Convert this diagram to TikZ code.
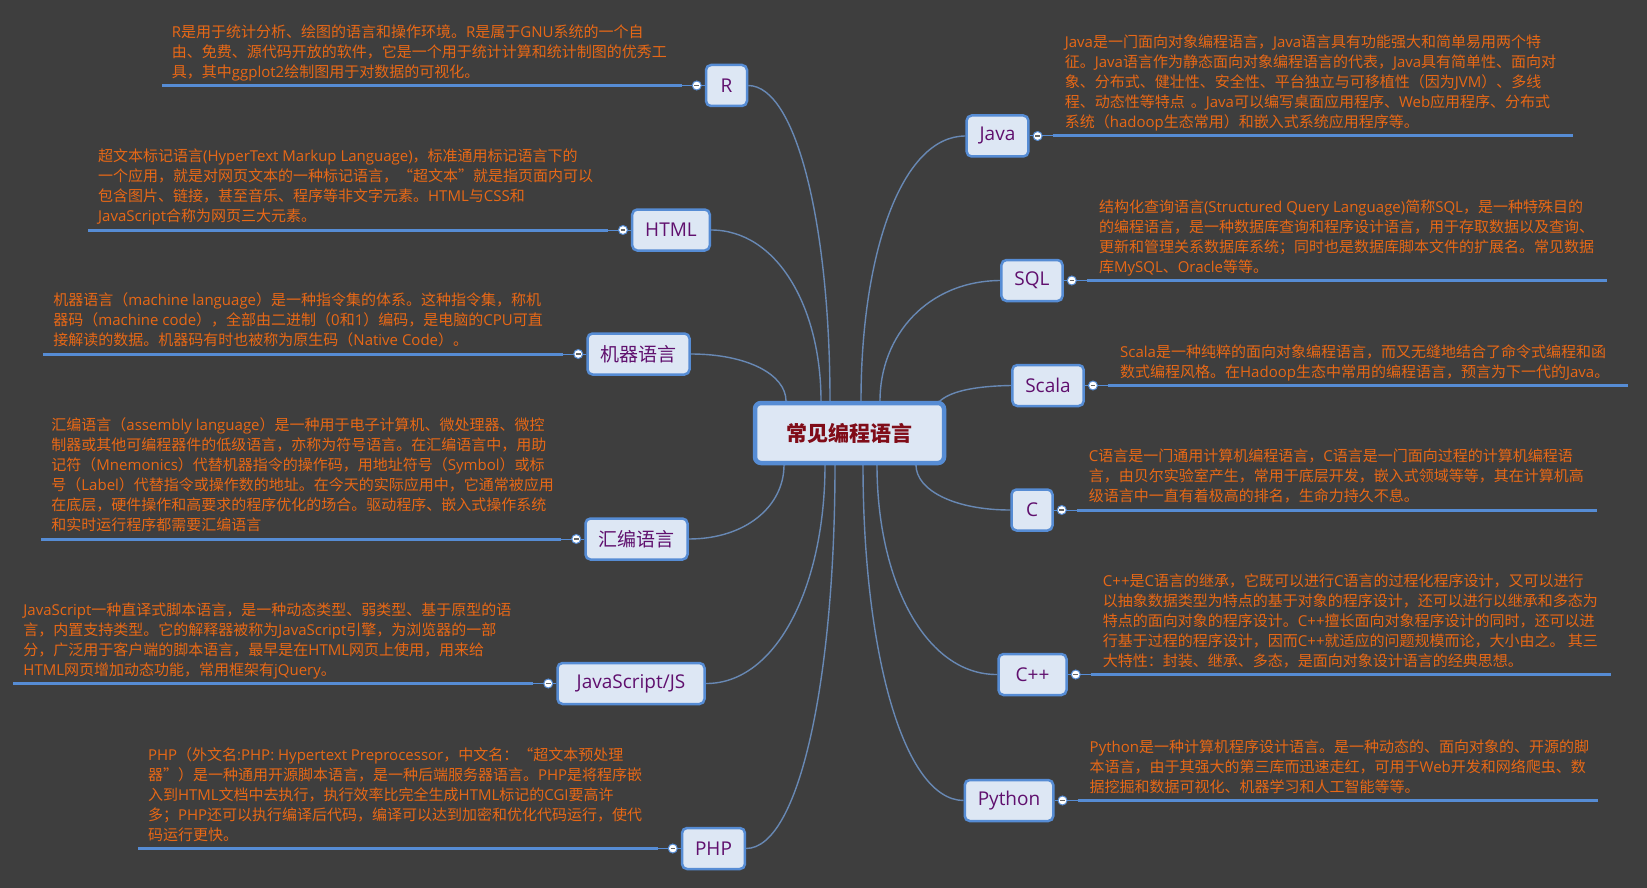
\documentclass[tikz,border=0pt]{standalone}
\usepackage{fontspec}
\setmainfont{Open Sans}
\newfontfamily\latinfont{Open Sans}
\newfontfamily\cjkfont{Noto Sans CJK SC}
\definecolor{bggray}{RGB}{62,62,62}
\definecolor{noteorange}{RGB}{232,104,22}
\definecolor{linkblue}{RGB}{86,140,212}
\definecolor{branchblue}{RGB}{104,136,180}
\definecolor{topicfill}{RGB}{221,231,244}
\definecolor{topicpurple}{RGB}{96,16,110}
\definecolor{rootred}{RGB}{128,12,24}
\pgfdeclarelayer{backdrop}
\pgfsetlayers{backdrop,main}
% switch fonts between latin and CJK characters
\newXeTeXintercharclass\cjkcls
\newcount\cjkcnt
\newcommand\cjkrange[2]{\cjkcnt=#1\relax
  \loop\XeTeXcharclass\cjkcnt=\cjkcls\relax
  \ifnum\cjkcnt<#2\advance\cjkcnt by 1\repeat}
\cjkrange{"4E00}{"9FFF}
\cjkrange{"3000}{"303F}
\cjkrange{"FF00}{"FFEF}
\cjkrange{"201C}{"201D}
\XeTeXinterchartoks 0 \cjkcls = {\cjkfont}
\XeTeXinterchartoks 4095 \cjkcls = {\cjkfont}
\XeTeXinterchartoks \cjkcls 0 = {\latinfont}
\XeTeXinterchartoks 4095 0 = {\latinfont}

\begin{document}
\XeTeXinterchartokenstate=1
\begin{tikzpicture}[x=1pt,y=-1pt,
    root/.style={draw=linkblue,line width=4.5pt,fill=topicfill,rounded corners=6pt,
      minimum width=189pt,minimum height=60pt,text=rootred,
      font=\fontsize{21}{25}\selectfont\bfseries},
    topic/.style={draw=linkblue,line width=2.5pt,fill=topicfill,rounded corners=5pt,
      minimum width=41pt,minimum height=41pt,inner xsep=13pt,text=topicpurple,
      font=\fontsize{19}{22}\selectfont},
    note/.style={anchor=south west,align=left,inner sep=0pt,text=noteorange,
      font=\fontsize{15}{20}\selectfont,execute at end node=\strut},
    branch/.style={draw=branchblue,line width=1.4pt},
    uline/.style={draw=linkblue,line width=3pt},
    twig/.style={draw=linkblue,line width=1pt},
    fold/.style={circle,draw=linkblue,fill=white,line width=1pt,minimum size=9pt,inner sep=0pt,
      path picture={\draw[line width=1.2pt,black!60]
        ([xshift=-2.3pt]path picture bounding box.center) --
        ([xshift=2.3pt]path picture bounding box.center);}}]

    \useasboundingbox (0,0) rectangle (1647,888);
    \begin{pgfonlayer}{backdrop}
        \fill[bggray] (0,0) rectangle (1647,888);
    \end{pgfonlayer}

    % Topics
    \node[root] (ctr) at (849.5,433) {常见编程语言};
    \node[topic] (r) at (726.5,85.5) {R};
    \node[topic] (html) at (671,230) {HTML};
    \node[topic] (mach) at (638.5,354) {机器语言};
    \node[topic] (asm) at (636.5,539) {汇编语言};
    \node[topic,minimum width=147pt] (js) at (631,683.5) {JavaScript/JS};
    \node[topic] (php) at (713.5,848.5) {PHP};
    \node[topic] (java) at (997.5,136) {Java};
    \node[topic] (sql) at (1032,280.5) {SQL};
    \node[topic] (scala) at (1048,385.5) {Scala};
    \node[topic] (c) at (1032,510) {C};
    \node[topic,minimum width=68pt] (cpp) at (1032.5,674.5) {C++};
    \node[topic] (py) at (1009,800.5) {Python};

    % Underlines with fold buttons
    \foreach \nm in {r,html,mach,asm,js,php}{
        \draw[twig] (\nm.west) -- ++(-23,0) coordinate (\nm-a);
        \draw[uline] (\nm-a) -- ++(-520,0) coordinate (\nm-b);
        \node[fold] at ([xshift=-8pt]\nm.west) {};
    }
    \foreach \nm in {java,sql,scala,c,cpp,py}{
        \draw[twig] (\nm.east) -- ++(23,0) coordinate (\nm-a);
        \draw[uline] (\nm-a) -- ++(520,0) coordinate (\nm-b);
        \node[fold] at ([xshift=8pt]\nm.east) {};
    }

    % Notes, left side
    \node[note] (rnote) at ([xshift=10pt,yshift=2pt]r-b) {R是用于统计分析、绘图的语言和操作环境。R是属于GNU系统的一个自\\由、免费、源代码开放的软件，它是一个用于统计计算和统计制图的优秀工\\具，其中ggplot2绘制图用于对数据的可视化。};
    \node[note] (htmlnote) at ([xshift=10pt,yshift=2pt]html-b) {超文本标记语言(HyperText Markup Language)，标准通用标记语言下的\\一个应用，就是对网页文本的一种标记语言，“超文本”就是指页面内可以\\包含图片、链接，甚至音乐、程序等非文字元素。HTML与CSS和\\JavaScript合称为网页三大元素。};
    \node[note] (machnote) at ([xshift=10pt,yshift=2pt]mach-b) {机器语言（machine language）是一种指令集的体系。这种指令集，称机\\器码（machine code），全部由二进制（0和1）编码，是电脑的CPU可直\\接解读的数据。机器码有时也被称为原生码（Native Code）。};
    \node[note] (asmnote) at ([xshift=10pt,yshift=2pt]asm-b) {汇编语言（assembly language）是一种用于电子计算机、微处理器、微控\\制器或其他可编程器件的低级语言，亦称为符号语言。在汇编语言中，用助\\记符（Mnemonics）代替机器指令的操作码，用地址符号（Symbol）或标\\号（Label）代替指令或操作数的地址。在今天的实际应用中，它通常被应用\\在底层，硬件操作和高要求的程序优化的场合。驱动程序、嵌入式操作系统\\和实时运行程序都需要汇编语言};
    \node[note] (jsnote) at ([xshift=10pt,yshift=2pt]js-b) {JavaScript一种直译式脚本语言，是一种动态类型、弱类型、基于原型的语\\言，内置支持类型。它的解释器被称为JavaScript引擎，为浏览器的一部\\分，广泛用于客户端的脚本语言，最早是在HTML网页上使用，用来给\\HTML网页增加动态功能，常用框架有jQuery。};
    \node[note] (phpnote) at ([xshift=10pt,yshift=2pt]php-b) {PHP（外文名:PHP: Hypertext Preprocessor，中文名：“超文本预处理\\器”）是一种通用开源脚本语言，是一种后端服务器语言。PHP是将程序嵌\\入到HTML文档中去执行，执行效率比完全生成HTML标记的CGI要高许\\多；PHP还可以执行编译后代码，编译可以达到加密和优化代码运行，使代\\码运行更快。};

    % Notes, right side
    \node[note] (javanote) at ([xshift=12pt,yshift=2pt]java-a) {Java是一门面向对象编程语言，Java语言具有功能强大和简单易用两个特\\征。Java语言作为静态面向对象编程语言的代表，Java具有简单性、面向对\\象、分布式、健壮性、安全性、平台独立与可移植性（因为JVM）、多线\\程、动态性等特点\hspace{6pt}。Java可以编写桌面应用程序、Web应用程序、分布式\\系统（hadoop生态常用）和嵌入式系统应用程序等。};
    \node[note] (sqlnote) at ([xshift=12pt,yshift=2pt]sql-a) {结构化查询语言(Structured Query Language)简称SQL，是一种特殊目的\\的编程语言，是一种数据库查询和程序设计语言，用于存取数据以及查询、\\更新和管理关系数据库系统；同时也是数据库脚本文件的扩展名。常见数据\\库MySQL、Oracle等等。};
    \node[note] (scalanote) at ([xshift=12pt,yshift=2pt]scala-a) {Scala是一种纯粹的面向对象编程语言，而又无缝地结合了命令式编程和函\\数式编程风格。在Hadoop生态中常用的编程语言，预言为下一代的Java。};
    \node[note] (cnote) at ([xshift=12pt,yshift=2pt]c-a) {C语言是一门通用计算机编程语言，C语言是一门面向过程的计算机编程语\\言，由贝尔实验室产生，常用于底层开发，嵌入式领域等等，其在计算机高\\级语言中一直有着极高的排名，生命力持久不息。};
    \node[note] (cppnote) at ([xshift=12pt,yshift=2pt]cpp-a) {C++是C语言的继承，它既可以进行C语言的过程化程序设计，又可以进行\\以抽象数据类型为特点的基于对象的程序设计，还可以进行以继承和多态为\\特点的面向对象的程序设计。C++擅长面向对象程序设计的同时，还可以进\\行基于过程的程序设计，因而C++就适应的问题规模而论，大小由之。 其三\\大特性：封装、继承、多态，是面向对象设计语言的经典思想。};
    \node[note] (pynote) at ([xshift=12pt,yshift=2pt]py-a) {Python是一种计算机程序设计语言。是一种动态的、面向对象的、开源的脚\\本语言，由于其强大的第三库而迅速走红，可用于Web开发和网络爬虫、数\\据挖掘和数据可视化、机器学习和人工智能等等。};

    % Branches
    \begin{pgfonlayer}{backdrop}
        \draw[branch] (ctr.center) -- (830,401) .. controls (830,228) and (797,86) .. (r.east);
        \draw[branch] (ctr.center) -- (821,401) .. controls (821,307) and (777,230) .. (html.east);
        \draw[branch] (ctr.center) -- (786,401) .. controls (786,375) and (748,354) .. (mach.east);
        \draw[branch] (ctr.center) -- (784,465) .. controls (784,506) and (746,539) .. (asm.east);
        \draw[branch] (ctr.center) -- (825,465) .. controls (825,585) and (777,684) .. (js.east);
        \draw[branch] (ctr.center) -- (835,465) .. controls (835,676) and (800,848) .. (php.east);
        \draw[branch] (ctr.center) -- (861,401) .. controls (861,255) and (901,136) .. (java.west);
        \draw[branch] (ctr.center) -- (880,401) .. controls (880,335) and (928,281) .. (sql.west);
        \draw[branch] (ctr.center) -- (940,401) .. controls (952,390) and (980,386) .. (scala.west);
        \draw[branch] (ctr.center) -- (916,465) .. controls (916,490) and (954,510) .. (c.west);
        \draw[branch] (ctr.center) -- (877,465) .. controls (877,580) and (925,675) .. (cpp.west);
        \draw[branch] (ctr.center) -- (863,465) .. controls (863,650) and (903,800) .. (py.west);
    \end{pgfonlayer}
\end{tikzpicture}
\end{document}
